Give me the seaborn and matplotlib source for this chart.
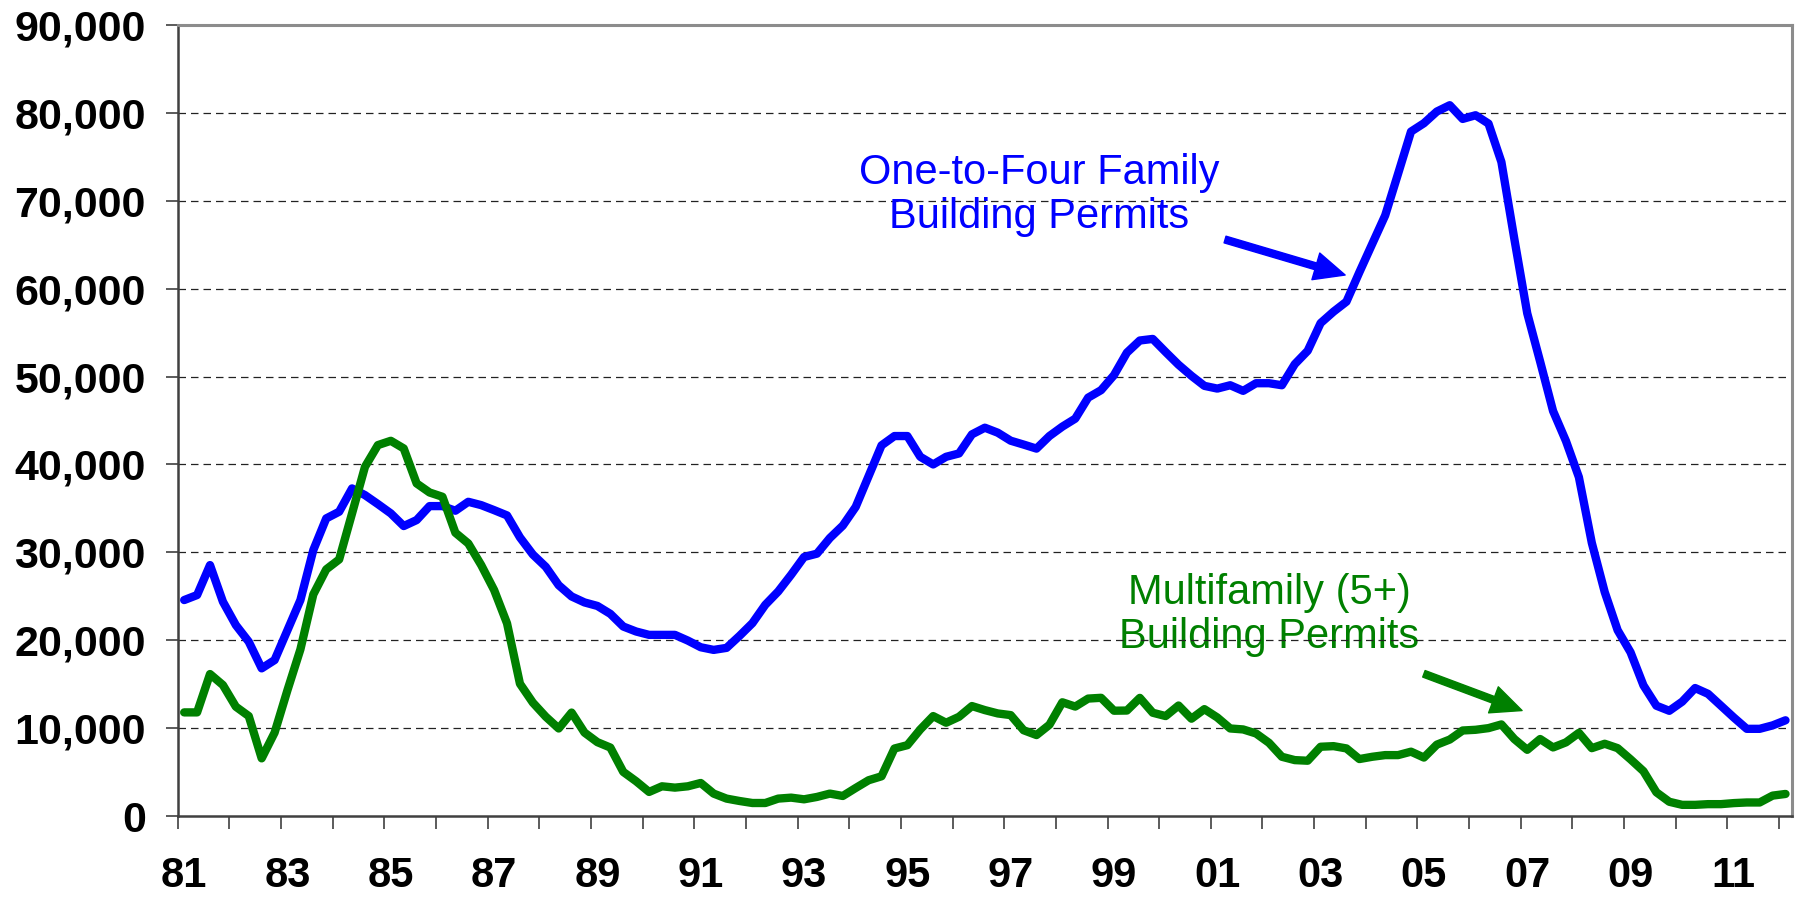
import numpy as np
import pandas as pd
import matplotlib
matplotlib.use("Agg")
import matplotlib.pyplot as plt
import seaborn as sns
from matplotlib.ticker import FixedLocator

# quarterly permits, 1981Q1 .. 2012Q1
one_to_four = [24570, 25140, 28550, 24380,   # 81
               21725, 19830, 16800, 17740,   # 82
               21150, 24570, 30260, 33860,   # 83
               34620, 37270, 36510, 35490,   # 84
               34430, 32990, 33670, 35260,   # 85
               35260, 34730, 35750, 35370,   # 86
               34800, 34200, 31700, 29750,   # 87
               28350, 26260, 24980, 24300,   # 88
               23900, 23000, 21560, 20990,   # 89
               20610, 20610, 20610, 19960,   # 90
               19200, 18900, 19130, 20490,   # 91
               21940, 24030, 25550, 27450,   # 92
               29470, 29850, 31630, 33040,   # 93
               35170, 38670, 42170, 43230,   # 94
               43230, 40870, 40000, 40870,   # 95
               41250, 43420, 44180, 43610,   # 96
               42700, 42260, 41800, 43230,   # 97
               44300, 45210, 47600, 48450,   # 98
               50160, 52720, 54100, 54280,   # 99
               52790, 51340, 50080, 48940,   # 00
               48630, 49010, 48370, 49240,   # 01
               49240, 49010, 51410, 52930,   # 02
               56080, 57380, 58520, 61860,   # 03
               65100, 68330, 73080, 77870,   # 04
               78820, 80150, 80870, 79310,   # 05
               79730, 78780, 74410, 65670,   # 06
               57200, 51700, 46080, 42660,   # 07
               38550, 31080, 25480, 21140,   # 08
               18630, 14860, 12550, 11970,   # 09
               13010, 14560, 13900, 12550,   # 10
               11200, 9920, 9920, 10310,     # 11
               10890]                        # 12

multifamily = [11790, 11790, 16150, 14900,
               12440, 11370, 6560, 9480,
               14330, 18960, 25210, 28060,
               29190, 34430, 39730, 42200,
               42690, 41820, 37840, 36810,
               36320, 32230, 31010, 28550,
               25710, 21920, 15050, 12900,
               11300, 9960, 11770, 9490,
               8400, 7790, 5020, 3950,
               2740, 3380, 3230, 3380,
               3760, 2550, 1980, 1710,
               1480, 1480, 1980, 2090,
               1900, 2170, 2550, 2280,
               3190, 4070, 4520, 7680,
               8060, 9850, 11370, 10610,
               11290, 12510, 12050, 11670,
               11480, 9760, 9210, 10380,
               12940, 12450, 13360, 13450,
               11980, 12000, 13440, 11750,
               11370, 12570, 11070, 12160,
               11210, 9960, 9850, 9390,
               8330, 6740, 6360, 6290,
               7880, 7950, 7690, 6480,
               6740, 6930, 6930, 7320,
               6650, 8120, 8700, 9730,
               9810, 10000, 10420, 8760,
               7530, 8760, 7800, 8380,
               9460, 7720, 8220, 7720,
               6450, 5100, 2700, 1620,
               1270, 1270, 1350, 1350,
               1470, 1540, 1540, 2320,
               2510]

year_labels = ['81', '83', '85', '87', '89', '91', '93', '95', '97', '99',
               '01', '03', '05', '07', '09', '11']
y_ticks = [0, 10000, 20000, 30000, 40000, 50000, 60000, 70000, 80000, 90000]

n = len(one_to_four)
df = pd.DataFrame({
    'q': np.tile(np.arange(n), 2),
    'permits': one_to_four + multifamily,
    'series': ['one'] * n + ['multi'] * n,
})

sns.set_theme(style="white")
plt.rcParams['font.family'] = ['Liberation Sans', 'DejaVu Sans']

fig = plt.figure(figsize=(17.97, 8.98), dpi=100)
ax = fig.add_axes([0.0989, 0.0913, 0.8983, 0.8809])

sns.lineplot(data=df, x='q', y='permits', hue='series',
             palette={'one': '#0000ff', 'multi': '#008000'},
             linewidth=6, legend=False, ax=ax, zorder=3)

ax.set_xlim(-0.5, n - 0.5)
ax.set_ylim(0, 90000)
ax.set_xlabel('')
ax.set_ylabel('')

# y axis
ax.set_yticks(y_ticks)
ax.set_yticklabels([f"{v:,}" for v in y_ticks], fontsize=31, fontweight='bold',
                   color='black')
ax.tick_params(axis='y', direction='out', length=9, width=1.2, color='#404040',
               pad=14, left=True)
for v in y_ticks[1:-1]:
    ax.axhline(v, color='#222222', lw=0.9, ls=(0, (6, 4)), zorder=1)

# x axis: marks at year boundaries, labels every other year
ax.set_xticks(np.arange(0, n, 8))
ax.set_xticklabels(year_labels, fontsize=30, fontweight='bold', color='black')
ax.xaxis.set_minor_locator(FixedLocator(np.arange(-0.5, n, 4)))
ax.tick_params(axis='x', which='major', length=0, pad=29)
ax.tick_params(axis='x', which='minor', direction='out', length=9.5, width=1.2,
               color='#404040', bottom=True)

for side in ['left', 'bottom']:
    ax.spines[side].set_color('#404040')
    ax.spines[side].set_linewidth(1.8)
for side in ['top', 'right']:
    ax.spines[side].set_color('#8c8c8c')
    ax.spines[side].set_linewidth(2.2)

# annotations
ax.text(66.2, 70650, 'One-to-Four Family\nBuilding Permits', color='#0000ff',
        fontsize=30, ha='center', va='center', linespacing=1.15)
ax.annotate('', xy=(89.9, 61550), xytext=(80.6, 65590),
            arrowprops=dict(facecolor='#0000ff', edgecolor='#0000ff',
                            width=5, headwidth=20, headlength=22, shrink=0))

ax.text(84.0, 22870, 'Multifamily (5+)\nBuilding Permits', color='#008000',
        fontsize=30, ha='center', va='center', linespacing=1.15, zorder=0)
ax.annotate('', xy=(103.6, 12000), xytext=(96.0, 16180),
            arrowprops=dict(facecolor='#008000', edgecolor='#008000',
                            width=5, headwidth=20, headlength=22, shrink=0))

fig.savefig('out.png', dpi=100)
